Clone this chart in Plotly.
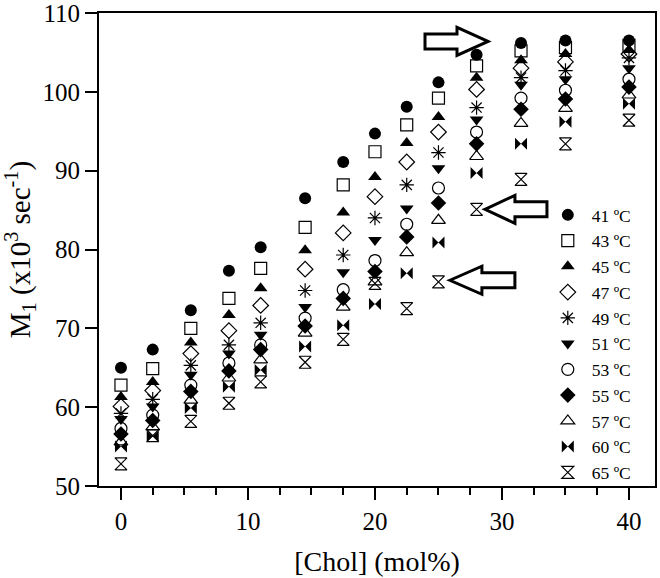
import plotly.graph_objects as go

chol = [0, 2.5, 5.5, 8.5, 11, 14.5, 17.5, 20, 22.5, 25, 28, 31.5, 35, 40]

temps = ["41", "43", "45", "47", "49", "51", "53", "55", "57", "60", "65"]

m41 = [65.0, 67.3, 72.3, 77.3, 80.3, 86.5, 91.1, 94.7, 98.1, 101.2, 104.7, 106.2, 106.5, 106.5]
m43 = [62.8, 64.9, 70.0, 73.8, 77.6, 82.8, 88.2, 92.4, 95.8, 99.2, 103.3, 105.2, 105.6, 105.9]
m45 = [61.3, 63.2, 68.2, 71.7, 75.1, 79.9, 84.7, 89.2, 93.5, 96.8, 101.8, 104.0, 104.8, 105.3]
m47 = [60.1, 62.1, 66.8, 69.7, 72.9, 77.5, 82.1, 86.7, 91.1, 94.9, 100.3, 103.0, 103.8, 104.8]
m49 = [59.2, 61.0, 65.3, 67.9, 70.7, 74.8, 79.3, 84.0, 88.2, 92.3, 98.0, 101.8, 102.7, 104.3]
m51 = [58.5, 60.1, 64.1, 66.8, 69.2, 72.7, 77.1, 81.2, 85.2, 90.3, 96.5, 100.9, 101.6, 103.0]
m53 = [57.3, 59.0, 62.8, 65.6, 67.9, 71.3, 74.9, 78.6, 83.2, 87.8, 94.9, 99.2, 100.2, 101.6]
m55 = [56.6, 58.3, 62.0, 64.6, 67.3, 70.3, 73.8, 77.2, 81.6, 85.9, 93.4, 97.8, 99.1, 100.6]
m57 = [55.6, 57.5, 60.9, 63.7, 66.0, 69.4, 72.7, 75.9, 79.6, 83.7, 91.8, 96.0, 97.9, 99.6]
m60 = [55.0, 56.3, 59.9, 62.6, 64.7, 67.7, 70.4, 73.1, 77.0, 80.9, 89.7, 93.4, 96.2, 98.5]
m65 = [52.8, 56.4, 58.2, 60.5, 63.2, 65.7, 68.6, 75.7, 72.5, 75.9, 85.1, 88.9, 93.4, 96.4]

series = [m41, m43, m45, m47, m49, m51, m53, m55, m57, m60, m65]
symbols = ["circle", "square-open", "triangle-up", "diamond-open", "asterisk-open",
           "triangle-down", "circle-open", "diamond", "triangle-up-open", "bowtie",
           "hourglass-open"]

FONT = "Liberation Serif"

fig = go.Figure()
for t, vals, sym in zip(temps, series, symbols):
    is_open = sym.endswith("-open")
    fig.add_trace(go.Scatter(
        x=chol, y=vals, mode="markers", name=f"{t} ºC",
        marker=dict(symbol=sym, size=12, color="black",
                    line=dict(color="#222222", width=1.2 if is_open else 0)),
    ))

# hollow block arrows (tip position in data units, shape in pixels)
def arrow_path(direction, length, head_len, head_half, shaft_half):
    s = 1 if direction == "right" else -1
    pts = [(0, 0), (-s * head_len, head_half), (-s * head_len, shaft_half),
           (-s * length, shaft_half), (-s * length, -shaft_half),
           (-s * head_len, -shaft_half), (-s * head_len, -head_half)]
    return "M " + " L ".join(f"{x},{y}" for x, y in pts) + " Z"

arrows = [
    dict(x=28.9, y=106.4, direction="right", length=63, head_len=31),
    dict(x=28.66, y=85.1, direction="left", length=62, head_len=30),
    dict(x=25.9, y=76.1, direction="left", length=65, head_len=32),
]
for a in arrows:
    fig.add_shape(type="path", xref="x", yref="y", xsizemode="pixel", ysizemode="pixel",
                  xanchor=a["x"], yanchor=a["y"],
                  path=arrow_path(a["direction"], a["length"], a["head_len"], 14, 7.5),
                  line=dict(color="black", width=3), fillcolor="white", layer="above")

axis_common = dict(showline=True, linecolor="black", linewidth=2, mirror=True,
                   showgrid=False, zeroline=False, ticks="outside", tickwidth=2,
                   ticklen=12, tickcolor="black", automargin=False,
                   ticklabeloverflow="allow",
                   tickfont=dict(family=FONT, size=25, color="black"))

fig.update_xaxes(range=[-1.73, 42.05], tick0=0, dtick=10,
                 minor=dict(dtick=2.5, ticks="outside", ticklen=7, tickwidth=2, tickcolor="black"),
                 title=dict(text="[Chol] (mol%)", font=dict(family=FONT, size=28, color="black"),
                            standoff=17),
                 **axis_common)
fig.update_yaxes(range=[50, 110], dtick=10,
                 title=dict(text="M<sub>1</sub> (x10<sup>3</sup> sec<sup>-1</sup>)",
                            font=dict(family=FONT, size=29, color="black"), standoff=5),
                 **axis_common)

fig.update_layout(
    width=660, height=578,
    margin=dict(l=99, r=5, t=13, b=92),
    paper_bgcolor="white", plot_bgcolor="white",
    showlegend=True,
    legend=dict(x=0.80, y=0.611, xanchor="left", yanchor="top",
                font=dict(family=FONT, size=17.5, color="black"),
                bgcolor="rgba(255,255,255,0)", tracegroupgap=0, itemwidth=38),
)

fig.write_html("out.html", config={"displayModeBar": False},
               post_script="document.body.style.margin='0px';")
